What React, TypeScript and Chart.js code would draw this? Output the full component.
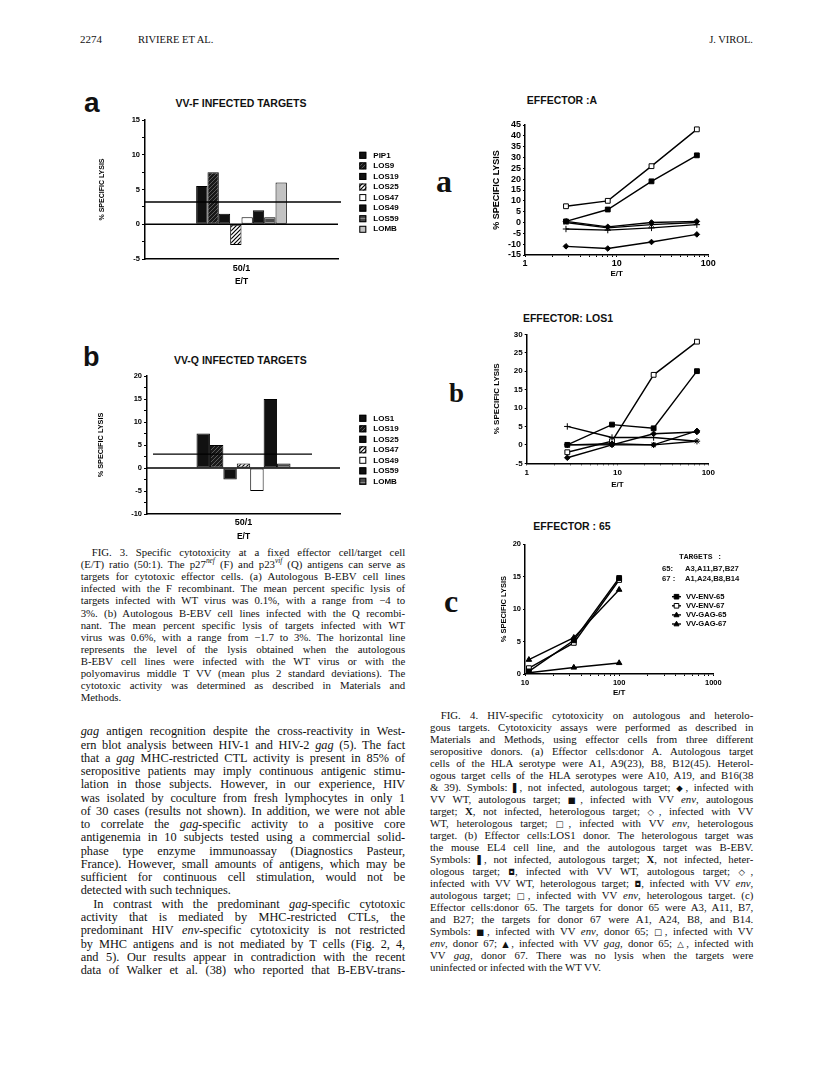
import React, { useEffect, useRef } from "react";
import { Chart, registerables } from "chart.js";
Chart.register(...registerables);

const SANS = "'Liberation Sans', Arial, Helvetica, sans-serif";
const SERIF = "'Liberation Serif', 'Times New Roman', serif";
const MONO = "'Liberation Mono', 'DejaVu Sans Mono', monospace";

// ---------------- DATA ----------------
// Fig. 3a  VV-F infected targets, E/T 50:1
const fig3aCategory = ["50/1"];
const fig3aTargets = ["PIP1", "LOS9", "LOS19", "LOS25", "LOS47", "LOS49", "LOS59", "LOMB"];
const fig3aLysis = [5.5, 7.5, 1.5, -3, 1, 2, 1, 6];
const fig3aBackground = 3.2;
const fig3aYRange = [-5, 15];

// Fig. 3b  VV-Q infected targets, E/T 50:1
const fig3bCategory = ["50/1"];
const fig3bTargets = ["LOS1", "LOS19", "LOS25", "LOS47", "LOS49", "LOS59", "LOMB"];
const fig3bLysis = [7.5, 5, -2.5, 1, -5, 15, 1];
const fig3bBackground = 3;
const fig3bYRange = [-10, 20];

// Fig. 4a  Effector: A
const fig4aET = [2.8, 8, 24, 75];
const fig4aNotInfAuto = [-3, -3.5, -2.5, -1];
const fig4aWtAuto = [-11, -12, -9, -5.5];
const fig4aEnvAuto = [0.5, 6, 19, 31];
const fig4aNotInfHetero = [0, -2.5, -1, 0];
const fig4aWtHetero = [0.5, -2, 0, 0.5];
const fig4aEnvHetero = [7.5, 10, 26, 43];
const fig4aYRange = [-15, 45];

// Fig. 4b  Effector: LOS1
const fig4bET = [2.8, 8.7, 25, 75];
const fig4bNotInfAuto = [5, 2, 2, 1];
const fig4bNotInfHetero = [0, 0, 0, 1];
const fig4bWtAuto = [-3.5, 0, 3, 3.5];
const fig4bWtHetero = [0, 0.3, 0, 3.8];
const fig4bEnvAuto = [0, 5.5, 4.5, 20];
const fig4bEnvHetero = [-2, 1, 19, 28];
const fig4bYRange = [-5, 30];

// Fig. 4c  Effector: 65
const fig4cET = [11, 33, 100];
const fig4cNames = ["VV-ENV-65", "VV-ENV-67", "VV-GAG-65", "VV-GAG-67"];
const fig4cEnv65 = [0.4, 5.2, 14.8];
const fig4cEnv67 = [0.9, 4.8, 14.5];
const fig4cGag65 = [2.2, 5.6, 13];
const fig4cGag67 = [0.2, 1, 1.7];
const fig4cYRange = [0, 20];

// ---------------- styles ----------------
const fig3aFillKinds = ["black", "darkHatch", "black", "whiteHatch", "white", "black", "grayLines", "lightGray"];
const fig3bFillKinds = ["black", "darkHatch", "black", "whiteHatch", "white", "black", "grayLines"];

type Box = { l: number; t: number; r: number; b: number };

function frame(canvas: Box, area: Box) {
  return {
    width: canvas.r - canvas.l,
    height: canvas.b - canvas.t,
    padTop: area.t - canvas.t,
    padRight: canvas.r - area.r,
    yWidth: area.l - canvas.l,
    xHeight: canvas.b - area.b,
  };
}

function makeFill(ctx: CanvasRenderingContext2D, kind: string): any {
  if (kind === "black") return "#111";
  if (kind === "white") return "#fff";
  if (kind === "lightGray") return "#c2c2c2";
  const c = document.createElement("canvas");
  c.width = 4;
  c.height = 4;
  const g = c.getContext("2d")!;
  if (kind === "grayLines") {
    g.fillStyle = "#4a4a4a";
    g.fillRect(0, 0, 4, 4);
    g.fillStyle = "#8a8a8a";
    g.fillRect(0, 0, 4, 1);
    return ctx.createPattern(c, "repeat");
  }
  if (kind === "darkHatch") {
    g.fillStyle = "#181818";
    g.fillRect(0, 0, 4, 4);
    g.strokeStyle = "#5a5a5a";
    g.lineWidth = 1;
  } else {
    g.fillStyle = "#fff";
    g.fillRect(0, 0, 4, 4);
    g.strokeStyle = "#000";
    g.lineWidth = 1.2;
  }
  g.beginPath();
  g.moveTo(0, 4);
  g.lineTo(4, 0);
  g.moveTo(-1, 1);
  g.lineTo(1, -1);
  g.moveTo(3, 5);
  g.lineTo(5, 3);
  g.stroke();
  return ctx.createPattern(c, "repeat");
}

function refLines(lines: { value: number; from: number; to: number }[]) {
  return {
    id: "refLines",
    afterDatasetsDraw(chart: any) {
      const { ctx, chartArea, scales } = chart;
      ctx.save();
      ctx.strokeStyle = "#000";
      ctx.lineWidth = 1.3;
      lines.forEach((l) => {
        const py = scales.y.getPixelForValue(l.value);
        ctx.beginPath();
        ctx.moveTo(chartArea.left + l.from, py);
        ctx.lineTo(chartArea.right + l.to, py);
        ctx.stroke();
      });
      ctx.restore();
    },
  };
}

function swatchLegend(pos: { x: number; y: number; dy: number; tx: number }) {
  return {
    id: "swatchLegend",
    afterDraw(chart: any) {
      const { ctx } = chart;
      ctx.save();
      ctx.font = `bold 8px ${SANS}`;
      ctx.textBaseline = "middle";
      chart.data.datasets.forEach((ds: any, i: number) => {
        const y = pos.y + i * pos.dy;
        ctx.fillStyle = ds.backgroundColor;
        ctx.fillRect(pos.x, y - 3.5, 7, 7);
        ctx.strokeStyle = "#000";
        ctx.lineWidth = 1;
        ctx.strokeRect(pos.x + 0.5, y - 3, 6, 6);
        ctx.fillStyle = "#000";
        ctx.fillText(ds.label, pos.x + pos.tx, y);
      });
      ctx.restore();
    },
  };
}

function drawMarker(ctx: CanvasRenderingContext2D, style: string, fill: string, x: number, y: number, r: number) {
  ctx.beginPath();
  if (style === "triangle") {
    ctx.moveTo(x, y - r * 1.2);
    ctx.lineTo(x + r * 1.1, y + r * 0.8);
    ctx.lineTo(x - r * 1.1, y + r * 0.8);
    ctx.closePath();
  } else {
    ctx.rect(x - r, y - r, 2 * r, 2 * r);
  }
  ctx.fillStyle = fill;
  ctx.fill();
  ctx.lineWidth = 1;
  ctx.strokeStyle = "#000";
  ctx.stroke();
}

function lineLegend(pos: { x: number; y: number; dy: number; tx: number }) {
  return {
    id: "lineLegend",
    afterDraw(chart: any) {
      const { ctx } = chart;
      ctx.save();
      ctx.font = `bold 7.6px ${SANS}`;
      ctx.textBaseline = "middle";
      chart.data.datasets.forEach((ds: any, i: number) => {
        const y = pos.y + i * pos.dy;
        ctx.strokeStyle = "#000";
        ctx.lineWidth = 1.4;
        ctx.beginPath();
        ctx.moveTo(pos.x - 4.5, y);
        ctx.lineTo(pos.x + 4.5, y);
        ctx.stroke();
        drawMarker(ctx, ds.pointStyle, ds.pointBackgroundColor, pos.x, y, 2.3);
        ctx.fillStyle = "#000";
        ctx.fillText(ds.label, pos.x + pos.tx, y);
      });
      ctx.restore();
    },
  };
}

function barConfig(ctx: CanvasRenderingContext2D, o: any) {
  const f = frame(o.canvas, o.area);
  const datasets = o.names.map((name: string, i: number) => ({
    label: name,
    data: [o.values[i]],
    backgroundColor: makeFill(ctx, o.fills[i]),
    borderColor: "#000",
    borderWidth: 1,
    borderSkipped: false,
    barPercentage: 1,
    categoryPercentage: o.group,
  }));
  const tfont = { family: SANS, size: 7.5, weight: "bold" };
  return {
    type: "bar",
    data: { labels: o.category, datasets },
    options: {
      responsive: false,
      maintainAspectRatio: false,
      animation: false,
      events: [],
      devicePixelRatio: 1,
      layout: { padding: { top: f.padTop, right: f.padRight, left: 0, bottom: 0 } },
      plugins: { legend: { display: false }, tooltip: { enabled: false } },
      scales: {
        x: {
          grid: { display: false, drawTicks: false },
          border: { display: true, color: "#000", width: 1.5 },
          ticks: { color: "#000", font: { family: SANS, size: 9, weight: "bold" }, padding: o.xTickPad },
          title: { display: true, text: "E/T", color: "#000", font: { family: SANS, size: 8.5, weight: "bold" }, padding: { top: 0, bottom: 2 } },
          afterFit: (s: any) => { s.height = f.xHeight; },
        },
        y: {
          min: o.yRange[0],
          max: o.yRange[1],
          ticks: {
            stepSize: 2.5,
            autoSkip: false,
            color: "#000",
            font: tfont,
            padding: 2,
            callback: (v: any) => (Number(v) % 5 === 0 ? String(v) : ""),
          },
          grid: { drawOnChartArea: false, tickLength: 3, color: "#000", lineWidth: 1 },
          border: { color: "#000", width: 1.5 },
          title: { display: true, text: "% SPECIFIC LYSIS", color: "#000", font: { family: SANS, size: o.yTitleSize, weight: "bold" }, padding: { top: 2, bottom: 0 } },
          afterFit: (s: any) => { s.width = f.yWidth; },
        },
      },
    },
    plugins: [refLines(o.lines), swatchLegend(o.legend)],
  };
}

function isPow10(v: number) {
  const l = Math.log10(v);
  return Math.abs(l - Math.round(l)) < 1e-6;
}

function lineConfig(o: any) {
  const f = frame(o.canvas, o.area);
  const datasets = o.series.map((s: any) => ({
    label: s.label,
    data: o.et.map((x: number, i: number) => ({ x, y: s.values[i] })),
    borderColor: "#000",
    borderWidth: 1.4,
    pointStyle: s.pointStyle,
    pointRadius: s.radius,
    pointBackgroundColor: s.fill,
    pointBorderColor: "#000",
    pointBorderWidth: 1,
    fill: false,
    tension: 0,
  }));
  const tfont = { family: SANS, size: o.tickSize, weight: "bold" };
  return {
    type: "line",
    data: { datasets },
    options: {
      responsive: false,
      maintainAspectRatio: false,
      animation: false,
      events: [],
      devicePixelRatio: 1,
      layout: { padding: { top: f.padTop, right: f.padRight, left: 0, bottom: 0 } },
      plugins: { legend: { display: false }, tooltip: { enabled: false } },
      scales: {
        x: {
          type: "logarithmic",
          min: o.xRange[0],
          max: o.xRange[1],
          afterBuildTicks: (s: any) => {
            s.ticks = s.ticks.filter((t: any) => {
              const m = t.value / Math.pow(10, Math.floor(Math.log10(t.value) + 1e-9));
              return Math.abs(m - Math.round(m)) < 1e-6;
            });
          },
          ticks: {
            autoSkip: false,
            maxRotation: 0,
            minRotation: 0,
            color: "#000",
            font: tfont,
            padding: o.xTickPad,
            callback: (v: any) => (isPow10(Number(v)) ? String(v) : ""),
          },
          grid: { drawOnChartArea: false, tickLength: 2, color: "#000", lineWidth: 1 },
          border: { color: "#000", width: 1.5 },
          title: { display: true, text: "E/T", color: "#000", font: { family: SANS, size: 8, weight: "bold" }, padding: { top: 0, bottom: 2 } },
          afterFit: (s: any) => { s.height = f.xHeight; },
        },
        y: {
          min: o.yRange[0],
          max: o.yRange[1],
          ticks: { stepSize: 5, autoSkip: false, color: "#000", font: tfont, padding: 2 },
          grid: { drawOnChartArea: false, tickLength: 2, color: "#000", lineWidth: 1 },
          border: { color: "#000", width: 1.5 },
          title: { display: true, text: "% SPECIFIC LYSIS", color: "#000", font: { family: SANS, size: o.yTitleSize, weight: "bold" }, padding: { top: 2, bottom: 0 } },
          afterFit: (s: any) => { s.width = f.yWidth; },
        },
      },
    },
    plugins: o.legend ? [lineLegend(o.legend)] : [],
  };
}

function ChartCanvas({ box, build }: { box: Box; build: (ctx: CanvasRenderingContext2D) => any }) {
  const ref = useRef<HTMLCanvasElement>(null);
  useEffect(() => {
    const cv = ref.current!;
    const ctx = cv.getContext("2d")!;
    const chart = new Chart(ctx, build(ctx));
    return () => chart.destroy();
  }, []);
  const w = box.r - box.l;
  const h = box.b - box.t;
  return (
    <canvas
      ref={ref}
      width={w}
      height={h}
      style={{ position: "absolute", left: box.l, top: box.t, width: w, height: h }}
    />
  );
}

// ---------------- text ----------------
function renderMarkup(s: string) {
  const parts = s.split(/(\*[^*]+\*|\^[^^]+\^|#[^#]+#|[\u2580-\u25FF])/g).filter((p) => p !== "");
  return parts.map((p, i) => {
    if (p.length > 1 && p[0] === "*" && p[p.length - 1] === "*") return <i key={i}>{p.slice(1, -1)}</i>;
    if (p.length > 1 && p[0] === "^" && p[p.length - 1] === "^")
      return (
        <sup key={i} style={{ fontSize: "0.68em", lineHeight: 0, fontStyle: "italic" }}>
          {p.slice(1, -1)}
        </sup>
      );
    if (p.length > 1 && p[0] === "#" && p[p.length - 1] === "#") return <b key={i}>{p.slice(1, -1)}</b>;
    if (p.length === 1 && p.charCodeAt(0) >= 0x2580 && p.charCodeAt(0) <= 0x25ff)
      return (
        <span key={i} style={{ fontSize: "0.78em", fontFamily: "'DejaVu Sans', sans-serif" }}>
          {p}
        </span>
      );
    return <React.Fragment key={i}>{p}</React.Fragment>;
  });
}

function TextBlock({ lines, x, width, y0, lh, size, indents, lastLines }: any) {
  return (
    <>
      {lines.map((ln: string, i: number) => {
        const ind = indents[i] || 0;
        const last = lastLines.includes(i);
        return (
          <div
            key={i}
            style={{
              position: "absolute",
              left: x + ind,
              top: y0 + i * lh - lh / 2 - 0.1075 * size,
              width: width - ind,
              height: lh,
              lineHeight: `${lh}px`,
              fontSize: size,
              fontFamily: SERIF,
              color: "#111",
              textAlign: last ? "left" : "justify",
              textAlignLast: last ? "left" : "justify",
            } as any}
          >
            {renderMarkup(ln)}
          </div>
        );
      })}
    </>
  );
}

function Txt({ x, cy, size, text, family = SANS, weight = "bold", align = "left", w = 300 }: any) {
  const lh = size * 1.2;
  const left = align === "center" ? x - w / 2 : align === "right" ? x - w : x;
  return (
    <div
      style={{
        position: "absolute",
        left,
        top: cy - lh / 2,
        width: w,
        height: lh,
        lineHeight: `${lh}px`,
        fontSize: size,
        fontFamily: family,
        fontWeight: weight as any,
        textAlign: align as any,
        whiteSpace: "nowrap",
        color: "#111",
      }}
    >
      {text}
    </div>
  );
}

function Letter({ x, top, size, text, family }: any) {
  return (
    <div
      style={{
        position: "absolute",
        left: x,
        top,
        fontSize: size,
        lineHeight: `${size}px`,
        fontFamily: family,
        fontWeight: "bold",
        color: "#111",
      }}
    >
      {text}
    </div>
  );
}

const fig3CaptionLines = [
  "FIG. 3. Specific cytotoxicity at a fixed effector cell/target cell",
  "(E/T) ratio (50:1). The p27^nef^ (F) and p23^vif^ (Q) antigens can serve as",
  "targets for cytotoxic effector cells. (a) Autologous B-EBV cell lines",
  "infected with the F recombinant. The mean percent specific lysis of",
  "targets infected with WT virus was 0.1%, with a range from \u22124 to",
  "3%. (b) Autologous B-EBV cell lines infected with the Q recombi-",
  "nant. The mean percent specific lysis of targets infected with WT",
  "virus was 0.6%, with a range from \u22121.7 to 3%. The horizontal line",
  "represents the level of the lysis obtained when the autologous",
  "B-EBV cell lines were infected with the WT virus or with the",
  "polyomavirus middle T VV (mean plus 2 standard deviations). The",
  "cytotoxic activity was determined as described in Materials and",
  "Methods.",
];

const bodyLines = [
  "*gag* antigen recognition despite the cross-reactivity in West-",
  "ern blot analysis between HIV-1 and HIV-2 *gag* (5). The fact",
  "that a *gag* MHC-restricted CTL activity is present in 85% of",
  "seropositive patients may imply continuous antigenic stimu-",
  "lation in those subjects. However, in our experience, HIV",
  "was isolated by coculture from fresh lymphocytes in only 1",
  "of 30 cases (results not shown). In addition, we were not able",
  "to correlate the *gag*-specific activity to a positive core",
  "antigenemia in 10 subjects tested using a commercial solid-",
  "phase type enzyme immunoassay (Diagnostics Pasteur,",
  "France). However, small amounts of antigens, which may be",
  "sufficient for continuous cell stimulation, would not be",
  "detected with such techniques.",
  "In contrast with the predominant *gag*-specific cytotoxic",
  "activity that is mediated by MHC-restricted CTLs, the",
  "predominant HIV *env*-specific cytotoxicity is not restricted",
  "by MHC antigens and is not mediated by T cells (Fig. 2, 4,",
  "and 5). Our results appear in contradiction with the recent",
  "data of Walker et al. (38) who reported that B-EBV-trans-",
];

const fig4CaptionLines = [
  "FIG. 4. HIV-specific cytotoxicity on autologous and heterolo-",
  "gous targets. Cytotoxicity assays were performed as described in",
  "Materials and Methods, using effector cells from three different",
  "seropositive donors. (a) Effector cells:donor A. Autologous target",
  "cells of the HLA serotype were A1, A9(23), B8, B12(45). Heterol-",
  "ogous target cells of the HLA serotypes were A10, A19, and B16(38",
  "& 39). Symbols: \u258C, not infected, autologous target; \u25C6, infected with",
  "VV WT, autologous target; \u25A0, infected with VV *env*, autologous",
  "target; #X#, not infected, heterologous target; \u25C7, infected with VV",
  "WT, heterologous target; \u25A1, infected with VV *env*, heterologous",
  "target. (b) Effector cells:LOS1 donor. The heterologous target was",
  "the mouse EL4 cell line, and the autologous target was B-EBV.",
  "Symbols: \u258C, not infected, autologous target; #X#, not infected, heter-",
  "ologous target; \u25D8, infected with VV WT, autologous target; \u25C7,",
  "infected with VV WT, heterologous target; \u25D8, infected with VV *env*,",
  "autologous target; \u25A1, infected with VV *env*, heterologous target. (c)",
  "Effector cells:donor 65. The targets for donor 65 were A3, A11, B7,",
  "and B27; the targets for donor 67 were A1, A24, B8, and B14.",
  "Symbols: \u25A0, infected with VV *env*, donor 65; \u25A1, infected with VV",
  "*env*, donor 67; \u25B2, infected with VV *gag*, donor 65; \u25B3, infected with",
  "VV *gag*, donor 67. There was no lysis when the targets were",
  "uninfected or infected with the WT VV.",
];

// ---------------- layout ----------------
const fig3aCanvas: Box = { l: 96, t: 110, r: 420, b: 289 };
const fig3aArea: Box = { l: 145, t: 120, r: 338, b: 259 };
const fig3bCanvas: Box = { l: 95, t: 366, r: 420, b: 544 };
const fig3bArea: Box = { l: 147, t: 376, r: 340, b: 514 };
const fig4aCanvas: Box = { l: 489, t: 117, r: 723, b: 281 };
const fig4aArea: Box = { l: 525, t: 125, r: 708.3, b: 255 };
const fig4bCanvas: Box = { l: 490, t: 326, r: 723, b: 492 };
const fig4bArea: Box = { l: 526.7, t: 334.3, r: 708.3, b: 463.3 };
const fig4cCanvas: Box = { l: 497, t: 536, r: 752, b: 700 };
const fig4cArea: Box = { l: 525, t: 544.3, r: 713.3, b: 674 };

export default function App() {
  return (
    <div
      style={{
        position: "absolute",
        left: 0,
        top: 0,
        width: 816,
        height: 1070,
        background: "#fff",
        overflow: "hidden",
      }}
    >
      {/* running header */}
      <Txt x={80} cy={40} size={11} family={SERIF} weight="normal" text="2274" w={60} />
      <Txt x={138} cy={40} size={10.5} family={SERIF} weight="normal" text="RIVIERE ET AL." w={120} />
      <Txt x={753} cy={40} size={10.5} family={SERIF} weight="normal" text="J. VIROL." align="right" w={100} />

      {/* Fig. 3a */}
      <Letter x={84} top={88.8} size={28} family={SANS} text="a" />
      <Txt x={241} cy={103} size={10.5} text="VV-F INFECTED TARGETS" align="center" />
      <ChartCanvas
        box={fig3aCanvas}
        build={(ctx) =>
          barConfig(ctx, {
            canvas: fig3aCanvas,
            area: fig3aArea,
            category: fig3aCategory,
            names: fig3aTargets,
            values: fig3aLysis,
            fills: fig3aFillKinds,
            yRange: fig3aYRange,
            group: 0.47,
            xTickPad: 4.6,
            yTitleSize: 7,
            lines: [
              { value: 0, from: 0, to: 0 },
              { value: fig3aBackground, from: 0, to: 3 },
            ],
            legend: { x: 263.3, y: 45.3, dy: 10.57, tx: 14 },
          })
        }
      />

      {/* Fig. 3b */}
      <Letter x={83} top={344} size={27} family={SANS} text="b" />
      <Txt x={240.3} cy={360} size={10.5} text="VV-Q INFECTED TARGETS" align="center" />
      <ChartCanvas
        box={fig3bCanvas}
        build={(ctx) =>
          barConfig(ctx, {
            canvas: fig3bCanvas,
            area: fig3bArea,
            category: fig3bCategory,
            names: fig3bTargets,
            values: fig3bLysis,
            fills: fig3bFillKinds,
            yRange: fig3bYRange,
            group: 0.487,
            xTickPad: 3.6,
            yTitleSize: 7.3,
            lines: [
              { value: 0, from: 0, to: 0 },
              { value: fig3bBackground, from: 6, to: -28 },
            ],
            legend: { x: 264.3, y: 52.3, dy: 10.5, tx: 14 },
          })
        }
      />

      {/* Fig. 4a */}
      <Txt x={562} cy={100} size={10.5} text="EFFECTOR :A" align="center" />
      <Letter x={436} top={165} size={32} family={SERIF} text="a" />
      <ChartCanvas
        box={fig4aCanvas}
        build={() =>
          lineConfig({
            canvas: fig4aCanvas,
            area: fig4aArea,
            et: fig4aET,
            xRange: [1, 100],
            yRange: fig4aYRange,
            tickSize: 9,
            yTitleSize: 9,
            xTickPad: 1,
            series: [
              { label: "not infected, autologous", values: fig4aNotInfAuto, pointStyle: "cross", radius: 3.2, fill: "#000" },
              { label: "VV WT, autologous", values: fig4aWtAuto, pointStyle: "rectRot", radius: 2.8, fill: "#000" },
              { label: "VV env, autologous", values: fig4aEnvAuto, pointStyle: "rect", radius: 3.4, fill: "#000" },
              { label: "not infected, heterologous", values: fig4aNotInfHetero, pointStyle: "crossRot", radius: 3, fill: "#000" },
              { label: "VV WT, heterologous", values: fig4aWtHetero, pointStyle: "rectRot", radius: 2.8, fill: "#000" },
              { label: "VV env, heterologous", values: fig4aEnvHetero, pointStyle: "rect", radius: 3.4, fill: "#fff" },
            ],
          })
        }
      />

      {/* Fig. 4b */}
      <Txt x={568} cy={318.3} size={10.5} text="EFFECTOR: LOS1" align="center" />
      <Letter x={449} top={380.4} size={27} family={SERIF} text="b" />
      <ChartCanvas
        box={fig4bCanvas}
        build={() =>
          lineConfig({
            canvas: fig4bCanvas,
            area: fig4bArea,
            et: fig4bET,
            xRange: [1, 100],
            yRange: fig4bYRange,
            tickSize: 8,
            yTitleSize: 8,
            xTickPad: 2.6,
            series: [
              { label: "not infected, autologous", values: fig4bNotInfAuto, pointStyle: "cross", radius: 3.2, fill: "#000" },
              { label: "not infected, heterologous", values: fig4bNotInfHetero, pointStyle: "crossRot", radius: 3, fill: "#000" },
              { label: "VV WT, autologous", values: fig4bWtAuto, pointStyle: "rectRot", radius: 2.8, fill: "#000" },
              { label: "VV WT, heterologous", values: fig4bWtHetero, pointStyle: "rectRot", radius: 2.8, fill: "#000" },
              { label: "VV env, autologous", values: fig4bEnvAuto, pointStyle: "rect", radius: 3.4, fill: "#000" },
              { label: "VV env, heterologous", values: fig4bEnvHetero, pointStyle: "rect", radius: 3.4, fill: "#fff" },
            ],
          })
        }
      />

      {/* Fig. 4c */}
      <Txt x={572} cy={526.7} size={10.5} text="EFFECTOR : 65" align="center" />
      <Letter x={444} top={585} size={32} family={SERIF} text="c" />
      <ChartCanvas
        box={fig4cCanvas}
        build={() =>
          lineConfig({
            canvas: fig4cCanvas,
            area: fig4cArea,
            et: fig4cET,
            xRange: [10, 1000],
            yRange: fig4cYRange,
            tickSize: 7.5,
            yTitleSize: 7.5,
            xTickPad: 2.2,
            series: [
              { label: fig4cNames[0], values: fig4cEnv65, pointStyle: "rect", radius: 3.4, fill: "#000" },
              { label: fig4cNames[1], values: fig4cEnv67, pointStyle: "rect", radius: 3.4, fill: "#fff" },
              { label: fig4cNames[2], values: fig4cGag65, pointStyle: "triangle", radius: 3.2, fill: "#000" },
              { label: fig4cNames[3], values: fig4cGag67, pointStyle: "triangle", radius: 3.2, fill: "#000" },
            ],
            legend: { x: 676.5 - fig4cCanvas.l, y: 596.7 - fig4cCanvas.t, dy: 9.1, tx: 9.5 },
          })
        }
      />
      <Txt x={700.5} cy={557} size={8} family={MONO} text="TARGETS :" align="center" w={80} />
      <Txt x={662} cy={569} size={7.7} text="65:" w={30} />
      <Txt x={685} cy={569} size={7.7} text="A3,A11,B7,B27" w={80} />
      <Txt x={662} cy={579} size={7.7} text="67 :" w={30} />
      <Txt x={685} cy={579} size={7.7} text="A1,A24,B8,B14" w={80} />

      {/* captions and body text */}
      <TextBlock lines={fig3CaptionLines} x={80.7} width={324.5} y0={553.3} lh={12.1} size={10.8} indents={{ 0: 11 }} lastLines={[12]} />
      <TextBlock lines={bodyLines} x={80.7} width={324.5} y0={733.3} lh={13.26} size={12.3} indents={{ 13: 12.5 }} lastLines={[12]} />
      <TextBlock lines={fig4CaptionLines} x={430} width={323.3} y0={716} lh={12} size={10.8} indents={{ 0: 10.7 }} lastLines={[21]} />
    </div>
  );
}
